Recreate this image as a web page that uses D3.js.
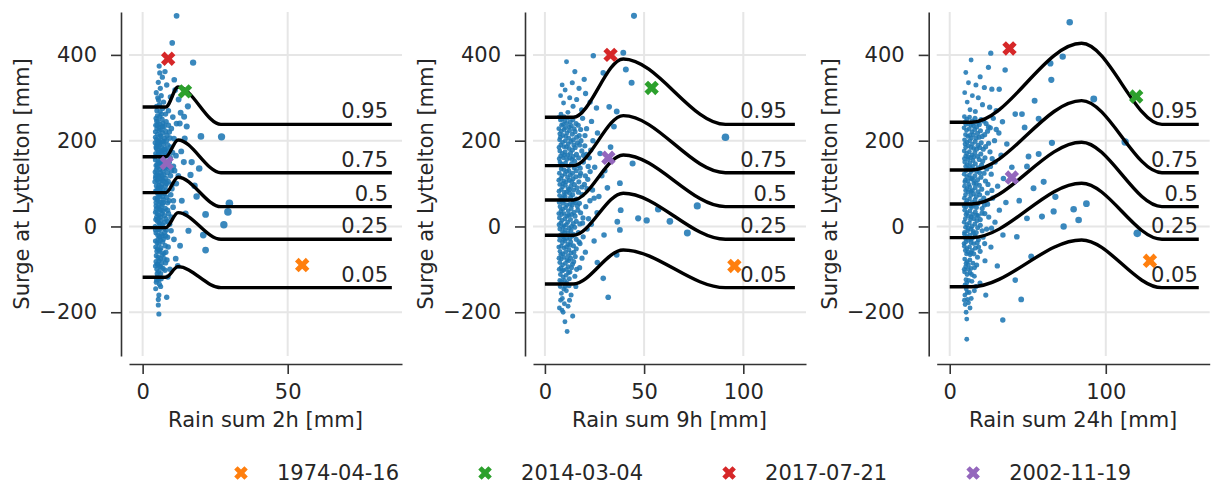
<!DOCTYPE html>
<html>
<head>
<meta charset="utf-8">
<script src="https://d3js.org/d3.v7.min.js"></script>
<style>
    body { margin: 0; background: #fff; }
    svg text { font-family: "DejaVu Sans", sans-serif; fill: #262626; }
</style>
</head>
<body>
<svg id="chart" width="1217" height="486"></svg>
<script>
    // ---- data ----
    const windows = ["2h", "9h", "24h"];
    const quantiles = ["0.95", "0.75", "0.5", "0.25", "0.05"];
    // x of the knots of each quantile curve: start, end of flat part, peak, start of plateau, last
    const curveX = [[0, 8, 12.2, 27, 85.9], [0, 14.3, 39.5, 91, 126], [0, 14, 84.5, 136, 159.6]];
    const curveStart = [[278.6, 162.7, 78.8, -2.8, -118.4], [254.6, 141.8, 61.8, -20.5, -134], [243, 131.7, 52.5, -26, -140.4]];
    const curvePeak = [[325, 201.7, 114.7, 32.2, -93.7], [390.5, 258.3, 166.7, 77.4, -54.8], [427, 293.3, 196.3, 100.7, -31.5]];
    const curveEnd = [238, 125.4, 46.2, -29.8, -142.7];
    const labelX = [84.6, 122, 159];
    const xDomains = [[-4.7, 89.4], [-6, 131.6], [-8.35, 166.6]];
    const yDomain = [-302, 500];
    const xTicks = [[0, 50], [0, 50, 100], [0, 100]];
    const yTicks = [-200, 0, 200, 400];

    const events = ["1974-04-16", "2014-03-04", "2017-07-21", "2002-11-19"];
    const eventColors = ["#ff7f0e", "#2ca02c", "#d62728", "#9467bd"];
    const eventRain = [[55, 14.6, 8.8, 8.3], [95.5, 53.8, 33.1, 32], [128.3, 119.5, 38.3, 39.8]];
    const eventSurge = [[-90, 315, 391, 148], [-92, 323, 400, 160], [-80, 303, 415, 114]];

    const points2h = [
        [11.7,491],[10.2,428],[17.4,382],[5.7,374],[7.7,361],[5.9,358],[10.9,342],[5.4,336],[6.8,348],[8.3,330],[11.2,318],[6.1,322],[4.7,312],[5.2,300],[9.6,302],[6.4,305],[12.4,296],[5.5,295],[7.2,290],[5.8,284],[4.8,280],[6.9,275],[15.6,280],[8.9,270],[4.9,270],[6.0,268],[13.1,265],[7.9,262],[6.5,262],[5.1,258],[10.4,255],[14.3,256],[11.7,240],
        [4.6,252],[5.3,245],[6.0,238],[6.7,250],[7.4,233],[4.9,228],[8.1,244],[12.8,240],[15.2,233],[9.9,228],
        [4.4,221],[5.1,215],[5.7,224],[6.3,210],[6.9,218],[7.6,205],[4.8,203],[5.5,200],[8.4,212],[9.2,220],[27.2,209],[20.1,210],[14.5,205],
        [4.3,195],[4.9,190],[5.4,186],[6.0,195],[6.6,183],[7.1,192],[7.9,181],[8.6,190],[5.2,178],[6.3,176],[13.3,175],[10.3,172],
        [4.5,170],[5.0,165],[5.7,168],[6.2,160],[6.8,170],[7.3,158],[8.0,165],[4.4,155],[5.3,152],[6.0,148],[7.7,150],[9.5,160],[16.9,150],[14.2,150],
        [4.6,142],[5.1,138],[5.8,133],[6.4,141],[7.0,129],[7.6,136],[4.3,127],[4.9,122],[5.6,120],[6.7,118],[8.5,125],[9.0,140],[11.0,130],[10.6,140],[19.5,135],[16.5,120],
        [4.4,113],[5.0,108],[5.5,104],[6.1,112],[6.6,98],[7.2,106],[7.9,95],[4.7,95],[5.3,90],[5.9,87],[8.8,105],[10.1,88],[11.6,100],[17.9,95],
        [4.5,83],[5.1,78],[5.7,75],[6.3,80],[6.9,70],[7.5,77],[4.3,66],[4.9,62],[5.4,60],[6.0,57],[6.8,52],[8.3,68],[9.7,74],[18.6,70],[13.5,60],
        [4.6,48],[5.2,44],[5.8,40],[6.4,46],[7.0,36],[7.8,42],[4.4,33],[5.0,30],[5.6,26],[6.2,22],[8.9,30],[10.5,45],[29.9,54],[29.4,34],[21.7,28],[14.8,30],
        [4.5,16],[5.1,12],[5.7,8],[6.3,14],[6.9,3],[7.6,10],[4.3,0],[4.9,-3],[5.5,-7],[6.6,-2],[8.1,-8],[9.3,5],[28.0,4],[15.8,-10],
        [4.6,-15],[5.2,-20],[5.8,-24],[6.4,-18],[7.1,-30],[4.4,-34],[5.0,-38],[5.6,-41],[6.9,-36],[8.6,-25],[10.8,-30],[20.9,-20],[12.9,-45],
        [4.5,-48],[5.1,-52],[5.7,-58],[6.3,-50],[7.3,-63],[4.7,-68],[5.3,-72],[6.1,-75],[8.0,-60],[21.7,-55],[11.4,-75],
        [4.6,-82],[5.2,-88],[5.9,-93],[6.6,-85],[4.9,-100],[5.5,-105],[7.0,-98],[6.2,-110],[9.4,-100],[12.1,-92],
        [5.0,-118],[5.6,-124],[4.7,-130],[6.4,-122],[6.2,-140],[4.8,-125],
        [5.6,-160],[8.3,-165],[5.4,-170],[5.4,-183],[5.6,-204],
        [4.8,246],[5.6,232],[6.3,226],[7.0,240],[5.0,236],[4.4,208],[6.0,212],[7.2,198],[5.8,190],[8.2,200],[4.7,182],[6.9,178],[5.5,172],[7.6,172],[4.2,162],[6.5,152],[8.4,148],[5.0,145],[6.9,144],[4.7,132],
        [6.1,126],[7.3,120],[8.0,112],[5.4,115],[4.2,104],[6.4,92],[7.0,86],[4.9,84],[5.9,70],[7.2,62],[8.6,55],[4.6,56],[5.5,50],[6.7,30],[7.5,25],[4.8,22],[5.4,18],[6.0,4],[7.3,-4],[8.6,12],
        [4.4,-8],[6.1,-32],[7.6,-14],[5.3,-30],[4.9,-58],[6.7,-66],[5.6,-80],[7.8,-45],[4.4,-92],[6.3,-95],[5.0,-110],[5.8,-135],[4.5,-145],[7.9,-85],[9.8,-10],[10.6,60],[9.6,185],[10.8,205],[11.5,165],[12.3,118],
        [8.7,-118],[6.8,232],[7.9,222],[6.5,200],[5.9,256],[4.5,236],[5.8,150],[6.6,160],[4.6,185],[5.2,196],[7.5,180],[8.3,100],[5.6,96],[6.8,108],[4.5,118],[7.1,56],[5.2,68],[6.2,38],[4.7,40],[8.0,18],
        [5.8,-8],[6.8,-22],[5.0,-88],[6.0,-55],[7.4,-75],
        [8.9,236],[9.4,206],[8.7,176],[9.2,150],[8.4,136],[9.6,118],[8.1,84],[9.1,60],[8.6,38],[9.8,22],[7.9,-22],[8.8,-48],[7.7,-102],[8.4,-78],[10.2,98],[9.9,130]
    ];

    const points9h = [
        [44.9,491],[39.5,405],[24.4,398],[10.9,384],[40.8,366],[15.1,361],[29.4,358],[43.7,335],[19.8,343],[8.7,330],[13.8,335],[17.2,322],[10.2,318],[7.9,305],[12.5,300],[20.5,310],[16.0,296],[22.8,290],[9.4,288],[14.2,280],[32.4,279],[26.0,276],[18.5,272],[36.2,268],[11.6,266],[8.1,262],
        [7.2,255],[8.6,250],[10.0,246],[11.4,252],[12.8,244],[14.1,249],[15.7,240],[19.0,252],[23.5,245],[9.2,238],[13.3,235],[34.8,233],
        [7.0,228],[8.3,222],[9.7,226],[11.1,218],[12.4,224],[13.8,215],[15.2,221],[17.3,212],[21.0,228],[26.5,218],[10.5,210],[7.8,208],
        [7.4,202],[8.9,196],[10.3,200],[11.8,192],[13.1,198],[14.6,190],[16.4,195],[20.1,188],[24.2,200],[9.6,186],[12.2,182],[7.1,184],[33.1,185],[91,208],
        [7.5,176],[8.8,170],[10.2,174],[11.5,166],[12.9,171],[14.3,163],[15.9,168],[18.6,176],[22.4,160],[27.8,170],[9.3,160],[13.6,156],[7.2,158],
        [7.6,150],[9.0,144],[10.4,148],[11.9,140],[13.3,145],[14.8,137],[16.8,142],[19.4,150],[25.1,138],[44.2,147],[8.2,134],[12.1,130],[30.2,130],
        [7.3,124],[8.7,118],[10.1,122],[11.4,114],[12.8,120],[14.2,111],[15.6,116],[18.0,124],[21.6,110],[28.7,118],[9.5,106],[13.5,104],[7.0,108],
        [7.5,98],[8.9,92],[10.3,96],[11.7,88],[13.1,94],[14.5,85],[16.2,90],[19.9,98],[24.0,85],[37.8,101],[9.8,80],[12.4,78],[7.1,82],[31.5,90],
        [7.4,72],[8.8,66],[10.2,70],[11.6,62],[13.0,68],[14.4,59],[15.9,64],[18.8,74],[22.7,60],[27.2,70],[9.1,54],[12.7,52],[7.2,56],
        [7.6,46],[9.0,40],[10.4,44],[11.8,36],[13.2,42],[14.6,33],[16.6,38],[20.6,46],[26.3,32],[38.2,38],[57.1,40],[76.8,48],[8.4,28],[12.0,26],[7.0,30],
        [7.3,20],[8.7,14],[10.1,18],[11.5,10],[12.9,16],[14.3,7],[15.8,12],[19.2,20],[23.4,5],[36.5,11],[47.0,19],[51.3,14],[63.0,12],[9.6,2],[13.4,0],[7.1,4],
        [7.5,-6],[8.9,-12],[10.3,-8],[11.7,-16],[13.1,-10],[14.5,-19],[16.9,-14],[21.3,-6],[29.8,-20],[37.8,-8],[71.8,-15],[9.2,-24],[12.6,-28],[7.2,-22],
        [7.4,-32],[8.8,-38],[10.2,-34],[11.6,-42],[13.0,-36],[14.4,-45],[17.7,-40],[24.8,-34],[9.7,-50],[12.1,-54],[7.0,-48],
        [7.6,-58],[9.0,-64],[10.4,-60],[11.8,-68],[13.2,-62],[15.3,-70],[20.4,-60],[36.2,-66],[8.3,-76],[12.0,-80],[7.1,-74],
        [7.5,-84],[8.9,-90],[10.3,-86],[11.7,-94],[13.9,-88],[17.5,-96],[9.4,-102],[12.6,-106],[7.2,-100],[26.4,-84],
        [7.8,-112],[9.2,-118],[10.6,-114],[12.3,-122],[15.1,-116],[8.4,-128],[11.0,-132],[29.4,-121],
        [7.7,-140],[9.5,-146],[8.3,-156],[10.8,-150],[13.2,-160],[31.9,-165],[7.9,-172],[9.8,-180],[11.7,-186],[8.6,-195],[14.0,-209],[10.1,-222],[11.2,-245],
        [7.8,248],[9.6,256],[11.0,240],[12.3,232],[14.7,228],[16.8,236],[8.4,236],[10.3,230],[7.5,216],[9.0,212],[12.0,206],[14.3,202],[16.0,208],[18.2,200],[8.0,190],[10.8,186],[13.9,178],[15.3,184],[17.5,190],[7.9,164],
        [9.9,166],[11.0,156],[12.5,160],[15.0,152],[17.0,160],[20.8,168],[8.4,146],[9.6,132],[11.0,128],[13.9,124],[15.8,130],[17.8,136],[22.8,128],[8.0,112],[9.0,100],[10.8,104],[12.3,108],[14.9,98],[17.1,104],[20.4,118],
        [8.2,86],[9.5,72],[10.9,80],[12.4,86],[14.0,74],[16.9,80],[21.2,88],[7.9,62],[9.8,60],[11.0,50],[13.8,50],[15.3,56],[17.4,54],[24.8,66],[8.1,36],[9.7,30],[11.1,24],[13.4,28],[15.2,24],[18.0,32],
        [22.0,18],[8.0,8],[9.0,-2],[10.8,4],[12.2,-4],[15.0,-2],[17.6,6],[8.1,-20],[9.9,-16],[11.0,-28],[13.8,-22],[15.8,-30],[19.3,-24],[8.2,-46],[9.4,-30],[10.8,-48],[12.6,-44],[15.8,-52],[8.0,-66],[9.7,-72],
        [11.1,-78],[13.0,-74],[14.5,-82],[8.1,-96],[10.8,-100],[13.4,-96],[9.9,-126],[8.6,-104],[11.9,-108],[7.5,-126],[10.2,-140],[12.2,-138],[7.3,-190],[9.2,-200],[12.4,-172],[8.8,-168],
        [18.0,226],[20.2,212],[19.4,166],[17.6,118],[18.6,92],[16.4,48],[19.0,8],[17.2,-36],[14.6,-60],[16.0,-100],[18.7,-74],[21.8,140],[23.1,178],[15.6,-140]
    ];

    const points24h = [
        [76.9,476],[26.3,404],[72.4,396],[13.7,388],[64.5,380],[24.8,371],[35.5,365],[10.3,359],[19.5,349],[65.1,342],[22.2,324],[27.0,320],[31.7,320],[12.0,335],[16.8,330],[9.6,312],[14.5,305],[18.3,300],[92.3,297],[54.4,293],[11.2,290],[21.0,284],[25.6,278],[13.0,272],[16.4,268],[29.8,270],[42.0,262],[46.3,262],
        [9.4,256],[11.0,250],[12.7,255],[14.4,246],[16.2,252],[18.0,243],[20.1,249],[23.3,240],[27.9,252],[57.0,251],[33.8,244],[10.3,238],[15.1,235],
        [9.2,230],[10.8,224],[12.5,228],[14.2,220],[16.0,226],[17.8,217],[19.7,223],[22.4,214],[26.0,230],[31.5,218],[48.0,231],[11.6,210],[13.9,206],[18.8,208],
        [9.5,202],[11.1,196],[12.8,200],[14.5,192],[16.3,198],[18.1,189],[20.2,195],[23.0,186],[28.7,200],[36.6,192],[65.5,195],[112.4,197],[10.2,184],[15.4,182],[21.5,180],
        [9.3,176],[10.9,170],[12.6,174],[14.3,166],[16.1,172],[17.9,163],[19.9,169],[22.6,160],[25.8,174],[32.9,166],[57.0,169],[50.5,163],[11.7,156],[14.9,154],[9.4,158],
        [9.6,150],[11.2,144],[12.9,148],[14.6,140],[16.4,146],[18.2,137],[20.4,143],[23.7,134],[29.1,150],[39.8,138],[49.5,140],[10.4,130],[13.8,128],[19.1,126],
        [9.3,122],[10.9,116],[12.6,120],[14.3,112],[16.1,118],[17.9,109],[20.0,115],[22.9,106],[26.6,122],[34.4,112],[9.7,104],[15.5,100],[12.2,98],[60.2,104],
        [9.5,94],[11.1,88],[12.8,92],[14.5,84],[16.3,90],[18.1,81],[20.5,87],[24.1,78],[30.7,94],[53.7,89],[10.1,74],[13.5,72],[17.0,70],[67.7,69],
        [9.4,66],[11.0,60],[12.7,64],[14.4,56],[16.2,62],[18.0,53],[19.8,59],[22.2,50],[27.5,66],[36.0,56],[44.5,60],[87.6,53],[10.6,46],[14.0,44],[9.2,48],
        [9.6,38],[11.2,32],[12.9,36],[14.6,28],[16.4,34],[18.2,25],[20.7,31],[25.0,22],[31.8,38],[66.6,35],[79.4,40],[49.5,19],[59.1,23],[10.0,18],[13.3,16],[17.5,14],
        [9.3,10],[10.9,4],[12.6,8],[14.3,0],[16.1,6],[17.9,-3],[19.6,3],[23.6,-6],[29.0,10],[73.0,0],[82.6,15],[11.5,-10],[15.0,-12],[9.5,-14],
        [9.5,-18],[11.1,-24],[12.8,-20],[14.5,-28],[16.3,-22],[18.4,-31],[21.4,-25],[43.0,-24],[34.1,-20],[120.2,-16],[10.3,-36],[13.7,-38],[9.2,-40],
        [9.4,-46],[11.0,-52],[12.7,-48],[14.4,-56],[16.5,-50],[19.5,-58],[26.4,-48],[10.8,-64],[13.1,-66],[52.2,-70],[17.8,-72],
        [9.6,-76],[11.2,-82],[12.9,-78],[14.9,-86],[17.3,-90],[22.6,-80],[10.2,-94],[13.6,-98],[9.3,-100],[30.5,-92],
        [9.5,-106],[11.1,-112],[13.0,-108],[15.8,-116],[10.4,-124],[14.2,-128],[9.8,-136],[42.0,-125],[19.4,-132],
        [10.6,-146],[12.5,-154],[9.7,-160],[23.1,-160],[15.8,-150],[11.4,-170],[45.8,-170],[9.9,-182],[13.0,-190],[10.5,-200],[34.0,-218],[10.9,-216],[10.9,-263],
        [10.0,244],[12.0,240],[13.6,236],[15.7,242],[17.3,232],[19.0,238],[21.8,246],[24.8,232],[10.1,214],[12.8,212],[15.1,214],[16.9,206],[20.8,210],[24.2,222],[29.8,226],[9.8,192],[12.0,188],[13.6,184],[17.2,180],[19.2,184],
        [24.9,194],[10.2,164],[11.9,162],[13.4,160],[15.5,162],[18.9,156],[21.1,152],[27.2,158],[10.2,140],[12.0,134],[13.1,138],[15.3,132],[17.3,128],[22.0,124],[26.1,140],[10.0,108],[11.7,106],[13.4,112],[15.2,108],[17.0,100],
        [19.0,96],[24.5,98],[10.2,84],[11.9,80],[13.6,82],[15.3,76],[19.2,74],[21.8,66],[27.0,84],[10.3,54],[11.8,52],[13.5,48],[15.3,50],[17.1,44],[20.8,42],[24.3,52],[10.4,28],[11.9,24],[13.8,22],[15.5,18],
        [17.3,26],[19.6,16],[22.5,30],[10.1,-2],[11.8,-4],[13.6,-6],[15.2,-16],[17.0,-14],[20.8,-10],[26.8,-4],[10.2,-28],[11.9,-32],[13.6,-30],[15.4,-40],[17.6,-38],[22.4,-40],[10.0,-56],[11.8,-60],[13.7,-62],[15.5,-64],
        [18.5,-48],[10.5,-86],[12.0,-90],[15.9,-96],[11.8,-100],[12.1,-126],[10.9,-132],[14.0,-112],[16.8,-140],[11.2,-154],[13.8,-168],[12.0,-178],[9.4,-172]
    ];
    const panelPoints = [points2h, points9h, points24h];

    // ---- layout ----
    const panelLeft = [129, 533, 936.7];
    const plotW = 273, plotTop = 12, plotBottom = 356;
    const spineOffset = 8;
    const fontSize = 21;

    const svg = d3.select("#chart");
    const y = d3.scaleLinear().domain(yDomain).range([plotBottom, plotTop]);

    windows.forEach((w, p) => {
        const left = panelLeft[p];
        const x = d3.scaleLinear().domain(xDomains[p]).range([left, left + plotW]);
        const g = svg.append("g");

        // grid
        g.selectAll(".vgrid").data(xTicks[p]).join("line")
            .attr("x1", d => x(d)).attr("x2", d => x(d))
            .attr("y1", plotTop).attr("y2", plotBottom)
            .attr("stroke", "#e6e6e6").attr("stroke-width", 2);
        g.selectAll(".hgrid").data(yTicks).join("line")
            .attr("x1", left).attr("x2", left + plotW)
            .attr("y1", d => y(d)).attr("y2", d => y(d))
            .attr("stroke", "#e6e6e6").attr("stroke-width", 2);

        // axes (offset spines)
        const yAxis = g.append("g")
            .attr("transform", `translate(${left - spineOffset},0)`)
            .call(d3.axisLeft(y).tickValues(yTicks).tickSize(10).tickPadding(14).tickSizeOuter(0));
        const xAxis = g.append("g")
            .attr("transform", `translate(0,${plotBottom + spineOffset})`)
            .call(d3.axisBottom(x).tickValues(xTicks[p]).tickSize(10).tickPadding(10).tickSizeOuter(0));
        [yAxis, xAxis].forEach(a => {
            a.selectAll("path, line").attr("stroke", "#333").attr("stroke-width", 1.6);
            a.selectAll("text").attr("font-size", fontSize).attr("fill", "#262626");
        });

        g.append("text")
            .attr("transform", `translate(${left - 107},${(plotTop + plotBottom) / 2}) rotate(-90)`)
            .attr("text-anchor", "middle").attr("dominant-baseline", "central")
            .attr("font-size", fontSize)
            .text("Surge at Lyttelton [mm]");
        g.append("text")
            .attr("x", left + plotW / 2).attr("y", 427)
            .attr("text-anchor", "middle").attr("font-size", fontSize)
            .text(`Rain sum ${w} [mm]`);

        // scatter
        const pts = panelPoints[p];
        const r = d3.scaleLinear().domain([0, d3.max(pts, d => d[0])]).range([2.3, 3.8]);
        g.append("g").selectAll("circle").data(pts).join("circle")
            .attr("cx", d => x(d[0])).attr("cy", d => y(d[1]))
            .attr("r", d => r(d[0]))
            .attr("fill", "#1f77b4").attr("fill-opacity", 0.88);

        // quantile curves
        const line = d3.line().curve(d3.curveMonotoneX).x(d => x(d[0])).y(d => y(d[1]));
        quantiles.forEach((q, i) => {
            const ys = [curveStart[p][i], curveStart[p][i], curvePeak[p][i], curveEnd[i], curveEnd[i]];
            g.append("path")
                .datum(curveX[p].map((cx, k) => [cx, ys[k]]))
                .attr("d", line)
                .attr("fill", "none").attr("stroke", "#000").attr("stroke-width", 3.4);
            g.append("text")
                .attr("x", x(labelX[p])).attr("y", y(curveEnd[i]) - 6)
                .attr("text-anchor", "end").attr("font-size", fontSize)
                .text(q);
        });

        // highlighted events
        const sym = d3.symbol().type(d3.symbolCross).size(130);
        events.forEach((e, k) => {
            g.append("path")
                .attr("d", sym)
                .attr("transform", `translate(${x(eventRain[p][k])},${y(eventSurge[p][k])}) rotate(45)`)
                .attr("fill", eventColors[k]);
        });
    });

    // legend
    const legend = svg.append("g");
    let lx = 241;
    events.forEach((e, k) => {
        legend.append("path")
            .attr("d", d3.symbol().type(d3.symbolCross).size(115))
            .attr("transform", `translate(${lx},473) rotate(45)`)
            .attr("fill", eventColors[k]);
        const t = legend.append("text")
            .attr("x", lx + 36).attr("y", 473)
            .attr("dominant-baseline", "central")
            .attr("font-size", fontSize)
            .text(e);
        lx += 36 + t.node().getComputedTextLength() + 86;
    });
</script>
</body>
</html>
